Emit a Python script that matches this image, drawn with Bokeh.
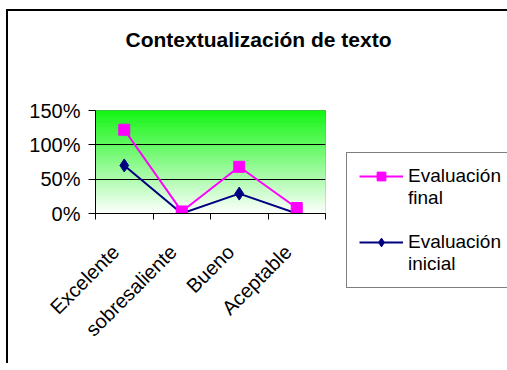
import numpy as np
from bokeh.plotting import figure
from bokeh.models import Range1d, FixedTicker, NumeralTickFormatter, Legend, LegendItem, Title
from bokeh.embed import file_html
from bokeh.resources import INLINE

categories = ["Excelente", "sobresaliente", "Bueno", "Aceptable"]
evaluacion_final = [1.22, 0.03, 0.68, 0.08]
evaluacion_inicial = [0.70, 0.00, 0.29, 0.00]
y_ticks = [0, 0.5, 1.0, 1.5]
legend_lines_final = ["Evaluación", "final"]
legend_lines_inicial = ["Evaluación", "inicial"]
title_text = "Contextualización de texto"

FONT = "Liberation Sans"
x = [i + 0.5 for i in range(len(categories))]
bounds = list(range(len(categories) + 1))
label_pos = [xi - 0.15 for xi in x]   # rotated labels end slightly left of the point

p = figure(frame_width=230, frame_height=103, output_backend="svg", toolbar_location=None,
           x_range=Range1d(0, len(categories)), y_range=Range1d(0, y_ticks[-1]),
           min_border_left=87, min_border_top=99, min_border_right=180, min_border_bottom=150,
           styles={"border-top": "2px solid #000", "border-left": "2px solid #000",
                   "margin-left": "6px", "margin-top": "9px"})

# gradient background of the plot area (green at top to white at bottom)
n = 80
ys = np.linspace(0, y_ticks[-1], n + 1)
top_rgb = np.array([20, 245, 20])
white = np.array([255, 255, 255])
cols = []
for i in range(n):
    t = (i + 0.5) / n
    c = white * (1 - t) + top_rgb * t
    cols.append("#%02x%02x%02x" % tuple(int(round(v)) for v in c))
bg = p.quad(left=0, right=len(categories), bottom=ys[:-1], top=ys[1:],
            fill_color=cols, line_color=cols, line_width=1)
bg.level = "image"

p.xgrid.visible = False
p.ygrid.ticker = FixedTicker(ticks=y_ticks)
p.ygrid.grid_line_color = "#000000"
p.ygrid.grid_line_width = 1

p.outline_line_color = "#808080"
p.outline_line_width = 1

# axes
p.xaxis.ticker = FixedTicker(ticks=label_pos, minor_ticks=bounds)
p.xaxis.major_label_overrides = {xi: c for xi, c in zip(label_pos, categories)}
p.xaxis.major_tick_line_color = None
p.xaxis.minor_tick_line_color = "#000000"
p.xaxis.minor_tick_in = 0
p.xaxis.minor_tick_out = 6
p.xaxis.major_label_orientation = np.pi / 4
p.xaxis.major_label_standoff = 29

p.yaxis.ticker = FixedTicker(ticks=y_ticks)
p.yaxis.formatter = NumeralTickFormatter(format="0%")
p.yaxis.major_tick_in = 0
p.yaxis.major_tick_out = 7
p.yaxis.minor_tick_line_color = None
p.yaxis.major_label_standoff = 8

for ax in (p.xaxis[0], p.yaxis[0]):
    ax.axis_line_color = "#000000"
    ax.major_label_text_font = FONT
    ax.major_label_text_font_size = "20px"
    ax.major_label_text_color = "#000000"

# title (a blank spacer title keeps it away from the plot area)
p.title = None
p.add_layout(Title(text=" ", text_font=FONT, text_font_size="21px", standoff=30), "above")
p.add_layout(Title(text=title_text, text_font=FONT, text_font_size="21px",
                   text_font_style="bold", text_color="#000000",
                   align="left", offset=30, standoff=10), "above")

# series
ri = p.line(x, evaluacion_inicial, line_color="#000080", line_width=2)
rim = p.scatter(x, evaluacion_inicial, marker="diamond", size=13,
                fill_color="#000080", line_color="#000080")
rf = p.line(x, evaluacion_final, line_color="#ff00ff", line_width=2)
rfm = p.scatter(x, evaluacion_final, marker="square", size=11,
                fill_color="#ff00ff", line_color="#ff00ff")
dummy = p.line(x=[], y=[], line_alpha=0)

# legend: each entry wraps onto two lines (second line carries no glyph)
legend = Legend(items=[LegendItem(label=legend_lines_final[0], renderers=[rf, rfm]),
                       LegendItem(label=legend_lines_final[1], renderers=[dummy]),
                       LegendItem(label=" ", renderers=[dummy]),
                       LegendItem(label=legend_lines_inicial[0], renderers=[ri, rim]),
                       LegendItem(label=legend_lines_inicial[1], renderers=[dummy])],
                location=(21, -75), glyph_width=44, glyph_height=22, label_height=22,
                label_standoff=5, padding=12, spacing=0, margin=0,
                label_text_font=FONT, label_text_font_size="19px",
                label_text_color="#000000",
                border_line_color="#000000", border_line_width=1,
                background_fill_color="#ffffff")
p.add_layout(legend, "right")

open("out.html", "w").write(file_html(p, INLINE))
